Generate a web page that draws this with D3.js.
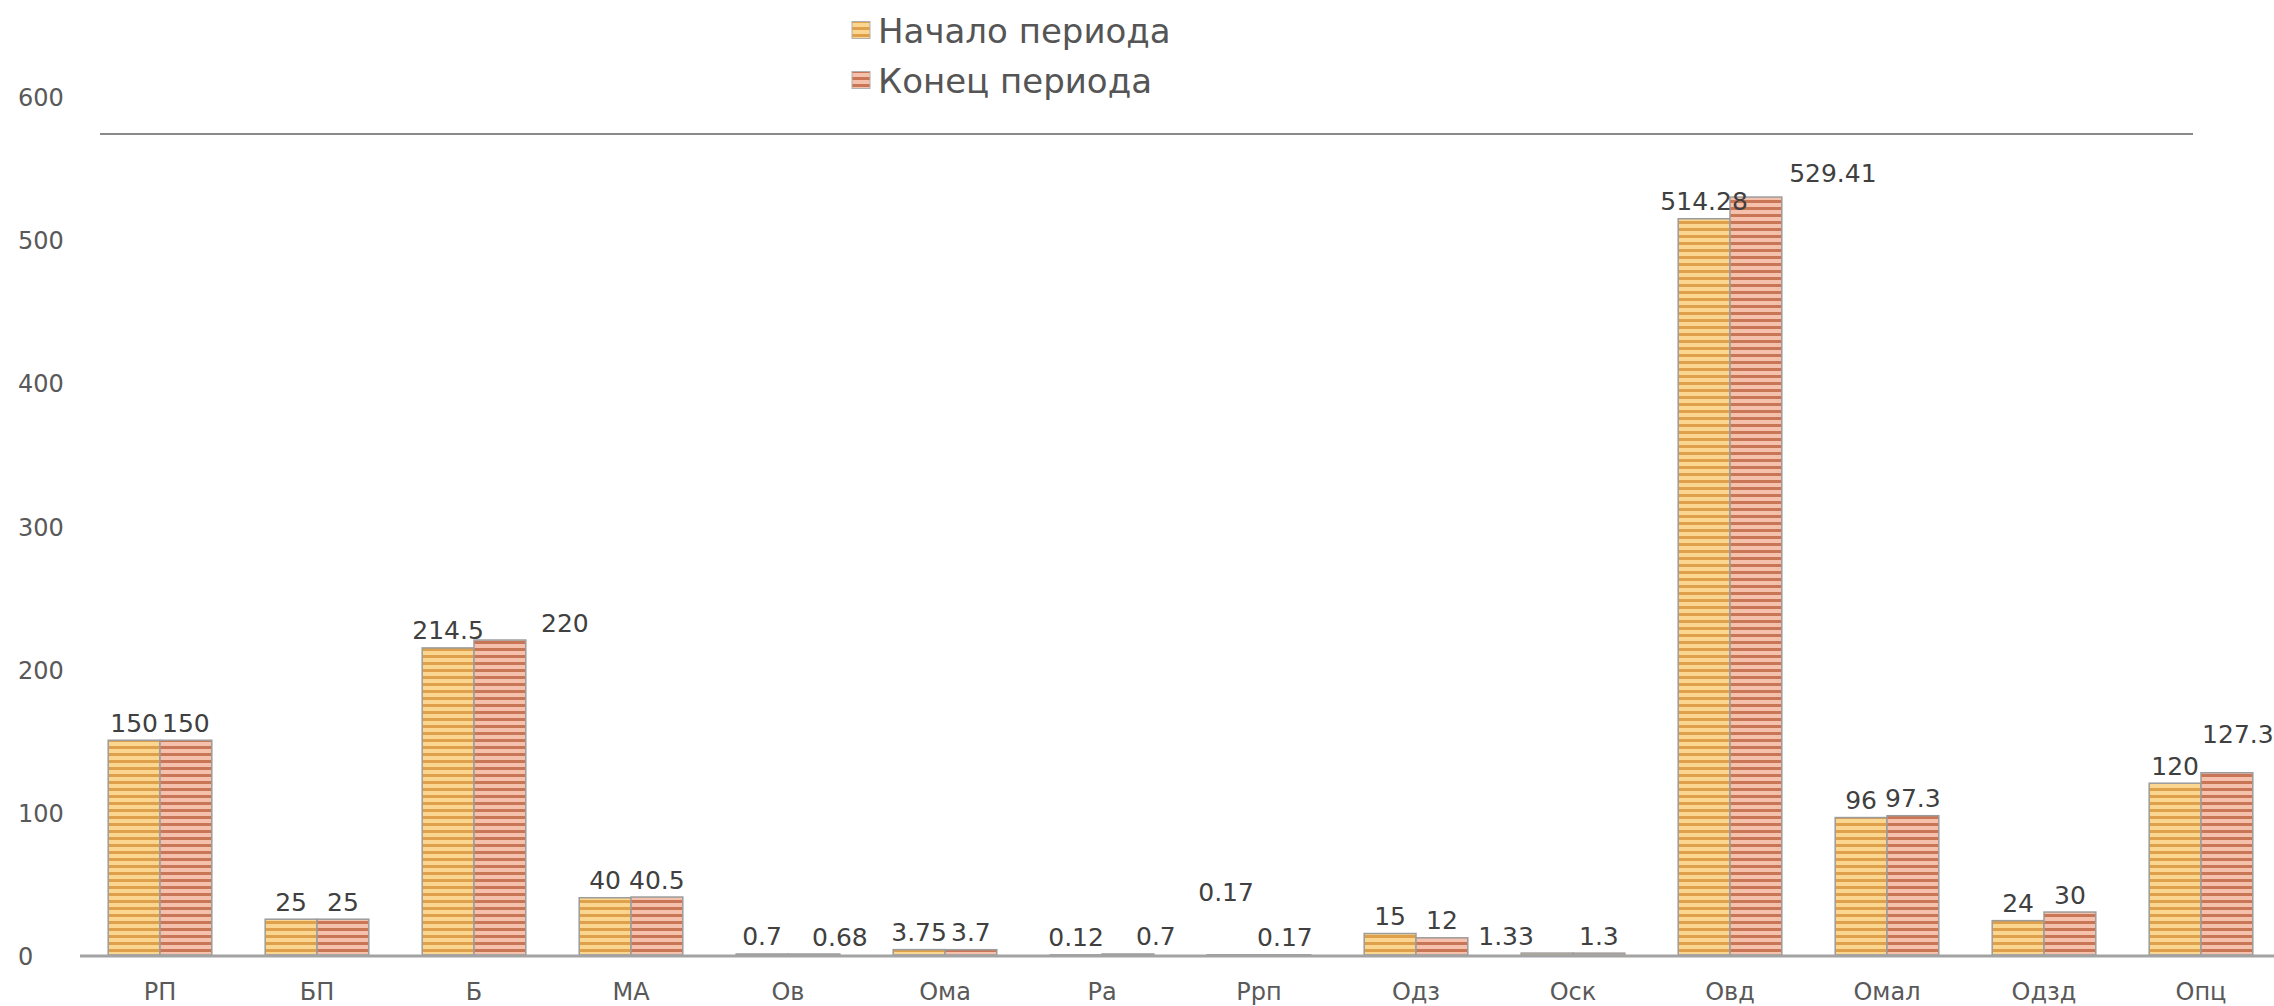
<!DOCTYPE html>
<html>
<head>
<meta charset="utf-8">
<script src="https://cdn.jsdelivr.net/npm/d3@7"></script>
<style>
  body { margin: 0; background: #fff; }
  text { font-family: "DejaVu Sans", Verdana, sans-serif; }
</style>
</head>
<body>
<svg id="chart" width="2274" height="1006"></svg>
<script>
var categories = ["РП", "БП", "Б", "МА", "Ов", "Ома", "Ра", "Ррп", "Одз", "Оск", "Овд", "Омал", "Одзд", "Опц"];
var startValues = [150, 25, 214.5, 40, 0.7, 3.75, 0.12, 0.17, 15, 1.33, 514.28, 96, 24, 120];
var endValues = [150, 25, 220, 40.5, 0.68, 3.7, 0.7, 0.17, 12, 1.3, 529.41, 97.3, 30, 127.3];
var seriesNames = ["Начало периода", "Конец периода"];
var yTicks = [0, 100, 200, 300, 400, 500, 600];

// labels that were dragged by hand in the original
var labelNudge = {
    "Б|1": [65, 0],
    "Ов|1": [26, 0],
    "Ра|1": [28, 0],
    "Ррп|0": [-7, -45],
    "Оск|0": [-41, 0],
    "Овд|1": [77, -7],
    "Опц|1": [11, -21]
};

var svg = d3.select("#chart");

var stripes = [
    {"id": "stripe0", "light": "#fad690", "dark": "#dfa04c"},
    {"id": "stripe1", "light": "#f5c1ad", "dark": "#c97656"}
];
var defs = svg.append("defs");
stripes.forEach(function (s) {
    var p = defs.append("pattern")
        .attr("id", s.id)
        .attr("patternUnits", "userSpaceOnUse")
        .attr("width", 8)
        .attr("height", 7);
    p.append("rect").attr("width", 8).attr("height", 7).style("fill", s.light);
    p.append("rect").attr("y", 4).attr("width", 8).attr("height", 3).style("fill", s.dark);
});

var x = d3.scaleBand()
    .domain(categories)
    .range([81.5, 2279.5])
    .paddingInner(0.34)
    .paddingOuter(0.17);
var x1 = d3.scaleBand()
    .domain([0, 1])
    .range([0, x.bandwidth()]);
var y = d3.scaleLinear()
    .domain([0, 600])
    .range([955, 96]);

// stray border line at top of plot
svg.append("line")
    .attr("x1", 100).attr("x2", 2193)
    .attr("y1", 134).attr("y2", 134)
    .style("stroke", "#8a8a8a")
    .style("stroke-width", 2);

// y tick labels
svg.append("g")
    .selectAll("text")
    .data(yTicks)
    .enter()
    .append("text")
    .attr("x", 18)
    .attr("y", (d) => y(d) + 2)
    .attr("dominant-baseline", "central")
    .attr("font-size", 24)
    .style("fill", "#595959")
    .text((d) => d);

var rows = [];
categories.forEach(function (c, i) {
    rows.push({"cat": c, "s": 0, "value": startValues[i]});
    rows.push({"cat": c, "s": 1, "value": endValues[i]});
});

svg.append("g")
    .selectAll("rect")
    .data(rows)
    .enter()
    .append("rect")
    .attr("x", (d) => x(d.cat) + x1(d.s))
    .attr("y", (d) => y(d.value))
    .attr("width", x1.bandwidth())
    .attr("height", (d) => y(0) - y(d.value))
    .style("fill", (d) => "url(#stripe" + d.s + ")")
    .style("stroke", "#9c9c9c")
    .style("stroke-width", 1.5);

// category axis line
svg.append("line")
    .attr("x1", 80).attr("x2", 2274)
    .attr("y1", y(0) + 1).attr("y2", y(0) + 1)
    .style("stroke", "#a3a3a3")
    .style("stroke-width", 3);

svg.append("g")
    .selectAll("text")
    .data(categories)
    .enter()
    .append("text")
    .attr("x", (d) => x(d) + x.bandwidth() / 2)
    .attr("y", 992)
    .attr("dominant-baseline", "central")
    .attr("text-anchor", "middle")
    .attr("font-size", 24)
    .style("fill", "#595959")
    .text((d) => d);

// value labels
svg.append("g")
    .selectAll("text")
    .data(rows)
    .enter()
    .append("text")
    .attr("x", function (d) {
        var n = labelNudge[d.cat + "|" + d.s] || [0, 0];
        return x(d.cat) + x1(d.s) + x1.bandwidth() / 2 + n[0];
    })
    .attr("y", function (d) {
        var n = labelNudge[d.cat + "|" + d.s] || [0, 0];
        return y(d.value) - 17 + n[1];
    })
    .attr("dominant-baseline", "central")
    .attr("text-anchor", "middle")
    .attr("font-size", 25)
    .style("fill", "#404040")
    .text((d) => d.value);

// legend
var legend = svg.append("g")
    .selectAll("g")
    .data(seriesNames)
    .enter()
    .append("g")
    .attr("transform", (d, i) => "translate(852, " + (30 + i * 50) + ")");
legend.append("rect")
    .attr("x", 0)
    .attr("y", -8.5)
    .attr("width", 18)
    .attr("height", 17)
    .style("fill", (d, i) => "url(#stripe" + i + ")")
    .style("stroke", "#b0b0b0")
    .style("stroke-width", 1);
legend.append("text")
    .attr("x", 26)
    .attr("y", 1)
    .attr("dominant-baseline", "central")
    .attr("font-size", 34)
    .style("fill", "#555")
    .text((d) => d);
</script>
</body>
</html>
